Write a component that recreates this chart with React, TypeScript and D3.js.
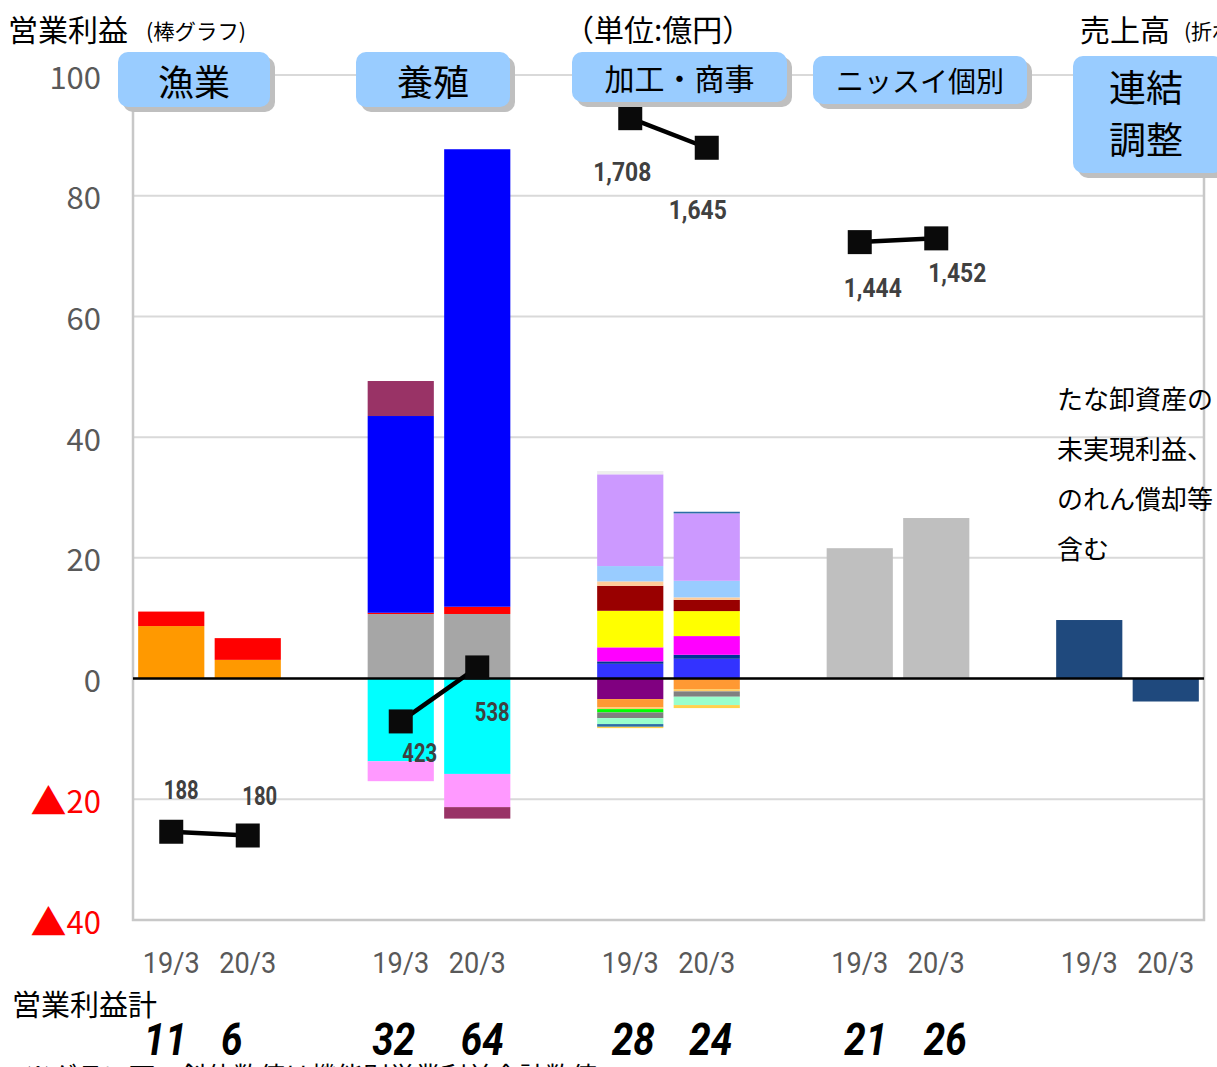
import * as d3 from "d3";

// 営業利益 (棒グラフ) と 売上高 (折れ線) — 単位:億円
const groups = ["漁業", "養殖", "加工・商事", "ニッスイ個別", "連結調整"];
const periods = ["19/3", "20/3"];
const yTicks = [100, 80, 60, 40, 20, 0, -20, -40];

// segment values per group, each pair = [19/3, 20/3], in stacking order
const fisheryProfit = [
  [8.7, 3.1],
  [2.4, 3.6],
];
const aquacultureProfit = [
  [10.7, 10.7],
  [0.2, 1.2],
  [32.6, 75.8],
  [-13.7, -15.8],
  [-3.3, -5.5],
  [5.8, -1.9],
];
const foodProfit = [
  [2.45, 3.28],
  [0.4, 0.66],
  [2.32, 3.1],
  [6.06, 4.14],
  [4.14, 1.87],
  [0.73, 0.4],
  [2.54, 2.75],
  [15.2, 11.17],
  [-3.4, 0],
  [-1.38, -1.74],
  [-0.28, -0.38],
  [-0.55, 0],
  [-0.94, -0.89],
  [-0.99, -1.38],
  [-0.45, 0.27],
  [0.55, 0],
  [-0.22, -0.5],
];
const nissuiProfit = [[21.6, 26.6]];
const adjustmentProfit = [[9.7, -3.8]];

const fisheryColors = ["#ff9900", "#ff0000"];
const aquacultureColors = ["#a6a6a6", "#ff0000", "#0000ff", "#00ffff", "#ff99ff", "#993366"];
const foodColors = [
  "#3333ff", "#003399", "#ff00ff", "#ffff00", "#990000", "#ffcc99", "#99ccff", "#cc99ff",
  "#800080", "#ff9933", "#ffcc66", "#00ff00", "#808080", "#99ffcc", "#2b6ea6", "#eeeeee", "#ffd24d",
];
const nissuiColors = ["#bfbfbf"];
const adjustmentColors = ["#1f497d"];

// 売上高 (折れ線)
const sales = [
  [188, 180],
  [423, 538],
  [1708, 1645],
  [1444, 1452],
];
const salesLabels = [
  ["188", "180"],
  ["423", "538"],
  ["1,708", "1,645"],
  ["1,444", "1,452"],
];
// 営業利益計
const profitTotals = [
  [11, 6],
  [32, 64],
  [28, 24],
  [21, 26],
];
const noteLines = ["たな卸資産の", "未実現利益、", "のれん償却等", "含む"];

const profitByGroup = [fisheryProfit, aquacultureProfit, foodProfit, nissuiProfit, adjustmentProfit];
const colorsByGroup = [fisheryColors, aquacultureColors, foodColors, nissuiColors, adjustmentColors];

// layout
const W = 1217;
const H = 1067;
const plot = { left: 133, right: 1204, top: 75, bottom: 920 };
const salesLabelOffsets = [
  [[10, -42], [12, -40]],
  [[19, 32], [15, 45]],
  [[-8, 54], [-9, 62]],
  [[13, 46], [21, 35]],
];
const totalOffsets = [
  [-6, -16],
  [-7, 5],
  [3, 4],
  [6, 9],
];
const headerBoxes = [
  { x: 118, y: 52, w: 152, h: 55, size: 36, lines: ["漁業"] },
  { x: 356, y: 52, w: 154, h: 55, size: 36, lines: ["養殖"] },
  { x: 572, y: 52, w: 215, h: 50, size: 30, lines: ["加工・商事"] },
  { x: 813, y: 56, w: 214, h: 48, size: 28, lines: ["ニッスイ個別"] },
  { x: 1073, y: 56, w: 150, h: 117, size: 37, lines: ["連結", "調整"] },
];

const JP = "'Noto Sans CJK JP', 'Noto Sans', sans-serif";
const NUM = "'Roboto', 'Noto Sans', sans-serif";

const catKeys = groups.flatMap((g, i) =>
  i < groups.length - 1 ? [`${i}|19/3`, `${i}|20/3`, `${i}|gap`] : [`${i}|19/3`, `${i}|20/3`]
);

export default function App() {
  const x = d3
    .scaleBand<string>()
    .domain(catKeys)
    .range([plot.left, plot.right])
    .paddingInner(0.135)
    .paddingOuter(0.0675);
  const y = d3.scaleLinear().domain([-40, 100]).range([plot.bottom, plot.top]);
  const ySales = d3.scaleLinear().domain([0, 1800]).range([plot.bottom, plot.top]);
  const cx = (gi: number, pi: number) => (x(`${gi}|${periods[pi]}`) || 0) + x.bandwidth() / 2;

  const line = d3
    .line<[number, number]>()
    .x((d) => d[0])
    .y((d) => d[1]);

  const bars = profitByGroup.flatMap((series, gi) => {
    const rows = periods.map((p, pi) => {
      const row: Record<string, number> = {};
      series.forEach((s, k) => (row[String(k)] = s[pi]));
      return row;
    });
    const stacked = d3
      .stack<Record<string, number>>()
      .keys(series.map((_, k) => String(k)))
      .offset(d3.stackOffsetDiverging)(rows);
    return stacked.flatMap((layer, k) =>
      layer.map((d, pi) => {
        const y0 = y(d[0]);
        const y1 = y(d[1]);
        return {
          key: `${gi}-${k}-${pi}`,
          x: x(`${gi}|${periods[pi]}`) || 0,
          y: Math.min(y0, y1),
          h: Math.abs(y0 - y1),
          fill: colorsByGroup[gi][k],
        };
      })
    );
  });

  return (
    <div style={{ position: "absolute", left: 0, top: 0, width: W, height: H, overflow: "hidden", background: "#fff" }}>
      <svg width={W} height={H} style={{ display: "block" }}>
        {/* gridlines */}
        {yTicks.map((t) => (
          <line key={t} x1={plot.left} x2={plot.right} y1={y(t)} y2={y(t)} stroke="#d9d9d9" strokeWidth={2} />
        ))}
        {/* plot border */}
        <path
          d={`M${plot.left},${plot.top}V${plot.bottom}H${plot.right}V${plot.top}`}
          fill="none"
          stroke="#c8c8c8"
          strokeWidth={2.5}
        />
        {/* y axis labels */}
        {yTicks.map((t) => (
          <text
            key={t}
            x={101}
            y={y(t)}
            textAnchor="end"
            dominantBaseline="central"
            fontFamily={JP}
            fontSize={31}
            fill={t < 0 ? "#ff0000" : "#595959"}
          >
            {t < 0 ? (
              <>
                <tspan fontSize={36}>▲</tspan>
                {-t}
              </>
            ) : (
              t
            )}
          </text>
        ))}
        {/* bars */}
        {bars.map((b) =>
          b.h > 0 ? <rect key={b.key} x={b.x} y={b.y} width={x.bandwidth()} height={b.h} fill={b.fill} /> : null
        )}
        {/* zero line */}
        <line x1={plot.left} x2={plot.right} y1={y(0)} y2={y(0)} stroke="#000" strokeWidth={2.5} />
        {/* sales lines */}
        {sales.map((s, gi) => {
          const pts = s.map((v, pi) => [cx(gi, pi), ySales(v)] as [number, number]);
          return (
            <g key={gi}>
              <path d={line(pts) || ""} fill="none" stroke="#000" strokeWidth={4.5} />
              {pts.map((p, pi) => (
                <rect key={pi} x={p[0] - 12} y={p[1] - 12} width={24} height={24} fill="#0a0a0a" />
              ))}
              {pts.map((p, pi) => (
                <text
                  key={`t${pi}`}
                  x={p[0] + salesLabelOffsets[gi][pi][0]}
                  y={p[1] + salesLabelOffsets[gi][pi][1]}
                  textAnchor="middle"
                  dominantBaseline="central"
                  fontFamily={NUM}
                  fontWeight="bold"
                  fontSize={26}
                  fill="#404040"
                  textLength={salesLabels[gi][pi].length * 11.6}
                  lengthAdjust="spacingAndGlyphs"
                >
                  {salesLabels[gi][pi]}
                </text>
              ))}
            </g>
          );
        })}
        {/* x tick labels */}
        {groups.map((g, gi) =>
          periods.map((p, pi) => (
            <text
              key={`${gi}-${pi}`}
              x={cx(gi, pi)}
              y={962}
              textAnchor="middle"
              dominantBaseline="central"
              fontFamily={NUM}
              fontSize={30}
              fill="#595959"
              textLength={57}
              lengthAdjust="spacingAndGlyphs"
            >
              {p}
            </text>
          ))
        )}
        {/* header boxes */}
        {headerBoxes.map((b, i) => (
          <g key={i}>
            <rect x={b.x + 5} y={b.y + 5} width={b.w} height={b.h} rx={10} fill="#bfbfbf" />
            <rect x={b.x} y={b.y} width={b.w} height={b.h} rx={10} fill="#99ccff" />
            {b.lines.map((l, li) => (
              <text
                key={li}
                x={b.x + (i === 4 ? 73 : b.w / 2)}
                y={b.y + (b.lines.length === 1 ? b.h / 2 : 30 + li * 52)}
                textAnchor="middle"
                dominantBaseline="central"
                fontFamily={JP}
                fontSize={b.size}
                fill="#000"
              >
                {l}
              </text>
            ))}
          </g>
        ))}
        {/* titles */}
        <text x={8} y={28} dominantBaseline="central" fontFamily={JP} fontSize={30} fill="#000">
          営業利益
        </text>
        <text
          x={146}
          y={30}
          dominantBaseline="central"
          fontFamily={JP}
          fontSize={21}
          fill="#000"
          textLength={100}
          lengthAdjust="spacingAndGlyphs"
        >
          (棒グラフ)
        </text>
        <text x={564} y={28} dominantBaseline="central" fontFamily={JP} fontSize={30} fill="#000">
          （単位:億円）
        </text>
        <text x={1080} y={28} dominantBaseline="central" fontFamily={JP} fontSize={30} fill="#000">
          売上高
        </text>
        <text x={1184} y={30} dominantBaseline="central" fontFamily={JP} fontSize={21} fill="#000">
          (折れ線グラフ)
        </text>
        {/* note on right */}
        {noteLines.map((l, i) => (
          <text key={i} x={1057} y={397 + i * 50} dominantBaseline="central" fontFamily={JP} fontSize={26} fill="#000">
            {l}
          </text>
        ))}
        {/* totals */}
        <text x={12} y={1003} dominantBaseline="central" fontFamily={JP} fontSize={29} fill="#000">
          営業利益計
        </text>
        {profitTotals.map((t, gi) =>
          t.map((v, pi) => (
            <text
              key={`${gi}-${pi}`}
              x={cx(gi, pi) + totalOffsets[gi][pi]}
              y={1039}
              textAnchor="middle"
              dominantBaseline="central"
              fontFamily={NUM}
              fontWeight="bold"
              fontStyle="italic"
              fontSize={45}
              fill="#000"
              textLength={String(v).length * 21.5}
              lengthAdjust="spacingAndGlyphs"
            >
              {v}
            </text>
          ))
        )}
        <text x={25} y={1074} dominantBaseline="central" fontFamily={JP} fontSize={26} fill="#000">
          ※グラフ下の斜体数値は機能別営業利益合計数値
        </text>
      </svg>
    </div>
  );
}
